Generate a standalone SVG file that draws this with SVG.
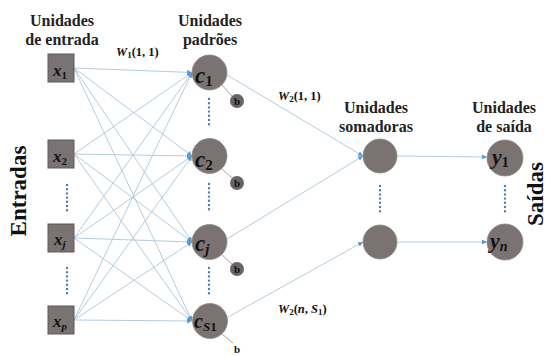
<svg xmlns="http://www.w3.org/2000/svg" width="550" height="356" viewBox="0 0 550 356">
<style>
.title{font-family:"Liberation Serif",serif;font-weight:bold;font-size:16px;fill:#222;text-anchor:middle}
.side{font-family:"Liberation Serif",serif;font-weight:bold;font-size:23px;fill:#111;text-anchor:middle}
.math{font-family:"Liberation Serif",serif;font-weight:bold;font-style:italic;fill:#111}
.sub{font-style:normal}
.wl{font-family:"Liberation Serif",serif;font-weight:bold;font-size:12.5px;fill:#111}
.sq{fill:#7a7373;stroke:#5e5959;stroke-width:1}
.nd{fill:#7b7272;stroke:#8d8a8c;stroke-width:0.8}
.bn{fill:#6a6464}
.btxt{font-family:"Liberation Serif",serif;font-weight:bold;font-size:11px;fill:#111;text-anchor:middle}
.ln{stroke:#a9c6da;stroke-width:0.9;fill:none}
.bl{stroke:#9c9a9a;stroke-width:0.9}
.dots{stroke:#4d7fb3;stroke-width:2.4;stroke-linecap:round;stroke-dasharray:0 4.2;fill:none}
</style>
<defs>
<marker id="ah" viewBox="0 0 10 10" refX="10" refY="5" markerWidth="5" markerHeight="5" orient="auto" markerUnits="userSpaceOnUse">
<path d="M0,0 L10,5 L0,10 z" fill="#5b9bd5"/>
</marker>
</defs>

<g id="labels">
<text class="title" x="62" y="26">Unidades</text>
<text class="title" x="62" y="45">de entrada</text>
<text class="title" x="210" y="26">Unidades</text>
<text class="title" x="210" y="45">padrões</text>
<text class="title" x="376" y="113">Unidades</text>
<text class="title" x="376" y="132">somadoras</text>
<text class="title" x="504" y="113">Unidades</text>
<text class="title" x="504" y="132">de saída</text>
<text class="side" transform="translate(26,191) rotate(-90)">Entradas</text>
<text class="side" transform="translate(543,194) rotate(-90)">Saídas</text>
<text class="wl" x="116" y="56"><tspan font-style="italic">W</tspan><tspan font-size="9" dy="2">1</tspan><tspan dy="-2">(1, 1)</tspan></text>
<text class="wl" x="278" y="100"><tspan font-style="italic">W</tspan><tspan font-size="9" dy="2">2</tspan><tspan dy="-2">(1, 1)</tspan></text>
<text class="wl" x="278" y="313"><tspan font-style="italic">W</tspan><tspan font-size="9" dy="2">2</tspan><tspan dy="-2">(</tspan><tspan font-style="italic">n</tspan><tspan>, </tspan><tspan font-style="italic">S</tspan><tspan font-size="9" dy="2">1</tspan><tspan dy="-2">)</tspan></text>
</g>

<g id="connectors">
<line class="ln" x1="74" y1="68" x2="192" y2="72.5" marker-end="url(#ah)"/>
<line class="ln" x1="74" y1="68" x2="192" y2="156" marker-end="url(#ah)"/>
<line class="ln" x1="74" y1="68" x2="192" y2="242" marker-end="url(#ah)"/>
<line class="ln" x1="74" y1="68" x2="192" y2="321" marker-end="url(#ah)"/>
<line class="ln" x1="74" y1="154" x2="192" y2="72.5" marker-end="url(#ah)"/>
<line class="ln" x1="74" y1="154" x2="192" y2="156" marker-end="url(#ah)"/>
<line class="ln" x1="74" y1="154" x2="192" y2="242" marker-end="url(#ah)"/>
<line class="ln" x1="74" y1="154" x2="192" y2="321" marker-end="url(#ah)"/>
<line class="ln" x1="74" y1="238" x2="192" y2="72.5" marker-end="url(#ah)"/>
<line class="ln" x1="74" y1="238" x2="192" y2="156" marker-end="url(#ah)"/>
<line class="ln" x1="74" y1="238" x2="192" y2="242" marker-end="url(#ah)"/>
<line class="ln" x1="74" y1="238" x2="192" y2="321" marker-end="url(#ah)"/>
<line class="ln" x1="74" y1="320" x2="192" y2="72.5" marker-end="url(#ah)"/>
<line class="ln" x1="74" y1="320" x2="192" y2="156" marker-end="url(#ah)"/>
<line class="ln" x1="74" y1="320" x2="192" y2="242" marker-end="url(#ah)"/>
<line class="ln" x1="74" y1="320" x2="192" y2="321" marker-end="url(#ah)"/>
<line class="ln" x1="227" y1="75" x2="363" y2="156" marker-end="url(#ah)"/>
<line class="ln" x1="227" y1="239" x2="363" y2="156" marker-end="url(#ah)"/>
<line class="ln" x1="228" y1="317" x2="363" y2="242" marker-end="url(#ah)"/>
<line class="ln" x1="397" y1="156" x2="487" y2="157" marker-end="url(#ah)"/>
<line class="ln" x1="397" y1="242" x2="487" y2="242" marker-end="url(#ah)"/>
<line class="bl" x1="222" y1="85" x2="232" y2="96"/>
<line class="bl" x1="222" y1="169" x2="232" y2="178"/>
<line class="bl" x1="222" y1="255" x2="232" y2="264"/>
<line class="bl" x1="222" y1="334" x2="233" y2="343"/>
<path class="dots" d="M67,185 V212 M67,268 V295 M209,99 V127 M209,184 V212 M209,268 V295 M380,186 V214 M505,186 V214"/>
</g>

<g id="x1"><rect class="sq" x="48" y="54" width="26" height="28"/><text class="math" x="53" y="76" font-size="17">x<tspan class="sub" font-size="11" dy="3">1</tspan></text></g>
<g id="x2"><rect class="sq" x="48" y="140" width="26" height="28"/><text class="math" x="53" y="162" font-size="17">x<tspan class="sub" font-size="11" dy="3">2</tspan></text></g>
<g id="xj"><rect class="sq" x="48" y="224" width="26" height="28"/><text class="math" x="54" y="245" font-size="17">x<tspan font-size="11" dy="3">j</tspan></text></g>
<g id="xp"><rect class="sq" x="48" y="306" width="26" height="28"/><text class="math" x="53" y="327" font-size="17">x<tspan font-size="11" dy="3">p</tspan></text></g>

<g id="c1"><circle class="nd" cx="209.5" cy="72.5" r="17.5"/><text class="math" x="195" y="83" font-size="23">c<tspan class="sub" font-size="15" dy="3">1</tspan></text></g>
<g id="c2"><circle class="nd" cx="209.5" cy="156" r="17.5"/><text class="math" x="195" y="166.5" font-size="23">c<tspan class="sub" font-size="15" dy="3">2</tspan></text></g>
<g id="cj"><circle class="nd" cx="209.5" cy="242" r="17.5"/><text class="math" x="195" y="251" font-size="23">c<tspan font-size="15" dy="3">j</tspan></text></g>
<g id="cs1"><circle class="nd" cx="210" cy="321" r="17.5"/><text class="math" x="194" y="328" font-size="20">c<tspan font-size="13" dy="3">S</tspan><tspan class="sub" font-size="13">1</tspan></text></g>

<g id="b1"><circle class="bn" cx="237" cy="101" r="7"/><text class="btxt" x="237" y="105">b</text></g>
<g id="b2"><circle class="bn" cx="237" cy="183" r="7"/><text class="btxt" x="237" y="187">b</text></g>
<g id="bj"><circle class="bn" cx="237" cy="269" r="7"/><text class="btxt" x="237" y="273">b</text></g>
<g id="bs1"><text class="btxt" x="237" y="353">b</text></g>

<g id="s1"><circle class="nd" cx="380" cy="156" r="17"/></g>
<g id="s2"><circle class="nd" cx="380" cy="242" r="17"/></g>

<g id="y1"><circle class="nd" cx="505" cy="158" r="18"/><text class="math" x="492" y="164" font-size="22">y<tspan class="sub" font-size="14" dy="3">1</tspan></text></g>
<g id="yn"><circle class="nd" cx="505" cy="242" r="18"/><text class="math" x="490" y="248" font-size="22">y<tspan font-size="14" dy="3">n</tspan></text></g>
</svg>
